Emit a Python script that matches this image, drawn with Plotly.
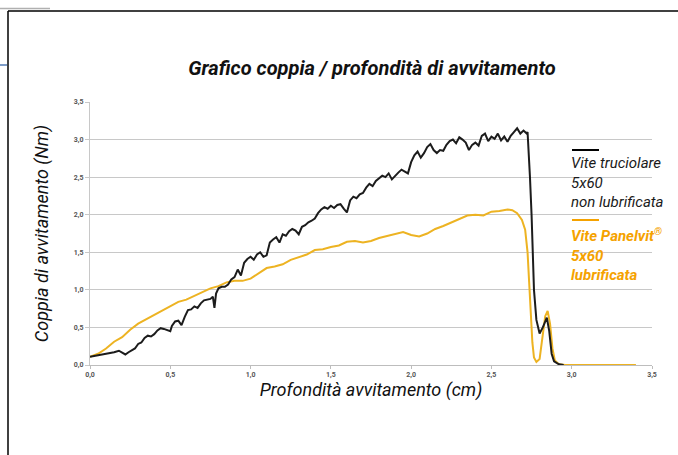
import plotly.graph_objects as go

# Vite truciolare 5x60 non lubrificata
depth_std = [0.00, 0.03, 0.06, 0.09, 0.12, 0.15, 0.18, 0.20, 0.22, 0.24, 0.26, 0.28, 0.30, 0.32,
             0.34, 0.36, 0.38, 0.40, 0.42, 0.44, 0.46, 0.48, 0.50, 0.51, 0.53, 0.55, 0.57, 0.59,
             0.61, 0.63, 0.65, 0.67, 0.69, 0.71, 0.73, 0.75, 0.765, 0.775, 0.785, 0.80, 0.82,
             0.84, 0.86, 0.88, 0.90, 0.92, 0.94, 0.96, 0.98, 1.00, 1.02, 1.04, 1.06, 1.08, 1.10,
             1.12, 1.14, 1.16, 1.18, 1.20, 1.22, 1.24, 1.26, 1.28, 1.30, 1.32, 1.34, 1.36, 1.38,
             1.40, 1.42, 1.44, 1.46, 1.48, 1.50, 1.52, 1.54, 1.56, 1.58, 1.60, 1.62, 1.64, 1.66,
             1.68, 1.70, 1.72, 1.74, 1.76, 1.78, 1.80, 1.82, 1.84, 1.86, 1.88, 1.90, 1.92, 1.94,
             1.96, 1.98, 2.00, 2.02, 2.04, 2.06, 2.08, 2.10, 2.12, 2.14, 2.16, 2.18, 2.20, 2.22,
             2.24, 2.26, 2.28, 2.30, 2.32, 2.34, 2.36, 2.38, 2.40, 2.42, 2.44, 2.46, 2.48, 2.50,
             2.52, 2.54, 2.56, 2.58, 2.60, 2.62, 2.64, 2.66, 2.68, 2.70, 2.72, 2.725, 2.74, 2.75,
             2.765, 2.78, 2.80, 2.82, 2.845, 2.86, 2.875, 2.89, 2.92, 2.95]
torque_std = [0.11, 0.12, 0.13, 0.15, 0.16, 0.17, 0.19, 0.16, 0.14, 0.17, 0.20, 0.22, 0.28, 0.30,
              0.36, 0.39, 0.38, 0.41, 0.46, 0.49, 0.48, 0.47, 0.45, 0.52, 0.58, 0.59, 0.53, 0.64,
              0.73, 0.74, 0.78, 0.76, 0.82, 0.86, 0.87, 0.88, 0.91, 0.76, 0.95, 1.02, 1.04,
              1.04, 1.07, 1.14, 1.17, 1.27, 1.19, 1.36, 1.41, 1.44, 1.40, 1.47, 1.50, 1.44, 1.46,
              1.63, 1.67, 1.70, 1.63, 1.74, 1.72, 1.78, 1.81, 1.79, 1.74, 1.84, 1.86, 1.90, 1.92,
              1.95, 2.02, 2.07, 2.10, 2.08, 2.12, 2.09, 2.13, 2.14, 2.08, 2.03, 2.19, 2.24, 2.22,
              2.27, 2.29, 2.36, 2.41, 2.38, 2.45, 2.48, 2.52, 2.50, 2.55, 2.47, 2.52, 2.56, 2.60,
              2.57, 2.55, 2.70, 2.79, 2.84, 2.76, 2.82, 2.90, 2.94, 2.86, 2.82, 2.86, 2.85, 2.93,
              2.98, 3.00, 2.95, 3.03, 3.00, 2.96, 2.86, 2.93, 2.96, 2.92, 3.05, 3.08, 2.98, 3.04,
              3.01, 3.08, 2.99, 3.04, 2.97, 3.05, 3.10, 3.15, 3.08, 3.12, 3.08, 3.10, 2.50, 2.00,
              1.00, 0.60, 0.42, 0.50, 0.63, 0.45, 0.15, 0.05, 0.01, 0.00]

# Vite Panelvit 5x60 lubrificata
depth_pv = [0.00, 0.05, 0.10, 0.15, 0.20, 0.25, 0.30, 0.35, 0.40, 0.45, 0.50, 0.55, 0.60, 0.65,
            0.70, 0.75, 0.80, 0.85, 0.90, 0.95, 1.00, 1.05, 1.10, 1.15, 1.20, 1.25, 1.30, 1.35,
            1.40, 1.45, 1.50, 1.55, 1.60, 1.65, 1.70, 1.75, 1.80, 1.85, 1.90, 1.95, 2.00, 2.05,
            2.10, 2.15, 2.20, 2.25, 2.30, 2.35, 2.40, 2.45, 2.50, 2.55, 2.60, 2.63, 2.66, 2.69,
            2.71, 2.725, 2.735, 2.745, 2.755, 2.765, 2.78, 2.80, 2.82, 2.835, 2.85, 2.865, 2.88,
            2.895, 2.92, 2.96, 3.40]
torque_pv = [0.11, 0.15, 0.22, 0.31, 0.37, 0.47, 0.55, 0.61, 0.66, 0.73, 0.79, 0.84, 0.87, 0.92,
             0.97, 1.02, 1.05, 1.10, 1.12, 1.12, 1.15, 1.22, 1.29, 1.31, 1.34, 1.40, 1.44, 1.47,
             1.53, 1.54, 1.57, 1.59, 1.64, 1.65, 1.63, 1.65, 1.69, 1.72, 1.74, 1.77, 1.73, 1.71,
             1.75, 1.81, 1.85, 1.90, 1.94, 1.99, 2.00, 1.99, 2.04, 2.05, 2.07, 2.06, 2.02, 1.93,
             1.80, 1.50, 1.10, 0.60, 0.30, 0.10, 0.04, 0.08, 0.40, 0.65, 0.72, 0.55, 0.22,
             0.06, 0.01, 0.00, 0.00]

tick_vals = [0, 0.5, 1.0, 1.5, 2.0, 2.5, 3.0, 3.5]
tick_text = ['0,0', '0,5', '1,0', '1,5', '2,0', '2,5', '3,0', '3,5']

legend_std = ['Vite truciolare', '5x60', 'non lubrificata']
legend_pv = ['Vite Panelvit<sup>®</sup>', '5x60', 'lubrificata']

FONT = 'Roboto, Liberation Sans, sans-serif'
NARROW = 'Liberation Sans Narrow, Roboto, sans-serif'
YELLOW = '#EDB322'
ORANGE = '#F5A200'

# plot area in pixels: x 90..652, y 102..365
L, R, T, B = 90, 26, 102, 90
PW, PH = 678 - L - R, 455 - T - B


def px(x):
    return (x - L) / PW


def py(y):
    return (455 - B - y) / PH


fig = go.Figure()
fig.add_trace(go.Scatter(x=depth_pv, y=torque_pv, mode='lines',
                         line=dict(color=YELLOW, width=2), showlegend=False))
fig.add_trace(go.Scatter(x=depth_std, y=torque_std, mode='lines',
                         line=dict(color='#1c1c1c', width=2), showlegend=False))

shapes = [
    # white box behind legend hides the grid
    dict(type='rect', xref='paper', yref='paper', x0=px(564), x1=px(660), y0=py(262), y1=py(136),
         fillcolor='white', line=dict(width=0), layer='below'),
    # page frame
    dict(type='line', xref='paper', yref='paper', x0=px(8), x1=px(680), y0=py(11), y1=py(11),
         line=dict(color='black', width=1.5)),
    dict(type='line', xref='paper', yref='paper', x0=px(8), x1=px(8), y0=py(11), y1=py(460),
         line=dict(color='black', width=1.5)),
    dict(type='line', xref='paper', yref='paper', x0=px(0), x1=px(50), y0=py(8.5), y1=py(8.5),
         line=dict(color='#b0b0b0', width=1.5)),
    dict(type='line', xref='paper', yref='paper', x0=px(0), x1=px(7), y0=py(65), y1=py(65),
         line=dict(color='#7d9cc8', width=2)),
    # legend keys
    dict(type='line', xref='paper', yref='paper', x0=px(572), x1=px(599), y0=py(150), y1=py(150),
         line=dict(color='black', width=2)),
    dict(type='line', xref='paper', yref='paper', x0=px(572), x1=px(599), y0=py(220), y1=py(220),
         line=dict(color=ORANGE, width=2)),
]

annotations = [
    dict(text='<br>'.join(legend_std), xref='paper', yref='paper', x=px(569), y=py(152),
         xanchor='left', yanchor='top', align='left', showarrow=False,
         font=dict(family=FONT, size=15, color='#1a1a1a', style='italic')),
    dict(text='<b>' + '<br>'.join(legend_pv) + '</b>', xref='paper', yref='paper', x=px(569),
         y=py(223), xanchor='left', yanchor='top', align='left', showarrow=False,
         font=dict(family=FONT, size=15, color=ORANGE, style='italic')),
]

fig.update_layout(
    width=678, height=455,
    margin=dict(l=L, r=R, t=T, b=B),
    paper_bgcolor='white', plot_bgcolor='rgba(0,0,0,0)',
    title=dict(text='<b>Grafico coppia / profondità di avvitamento</b>', x=372 / 678,
               xanchor='center', y=1 - 68 / 455, yanchor='middle',
               font=dict(family=FONT, size=20, color='#111111', style='italic')),
    xaxis=dict(range=[0, 3.5], tickvals=tick_vals, ticktext=tick_text, showgrid=False,
               showline=True, linecolor='#bdbdbd', linewidth=1, ticks='outside', ticklen=3,
               tickcolor='#bdbdbd', zeroline=False,
               tickfont=dict(family=NARROW, size=7, color='#555555', weight='bold'),
               title=dict(text='Profondità avvitamento (cm)', standoff=3,
                          font=dict(family=FONT, size=18, color='#111111', style='italic'))),
    yaxis=dict(range=[0, 3.5], tickvals=tick_vals, ticktext=tick_text, showgrid=True,
               gridcolor='#c8c8c8', gridwidth=1, showline=True, linecolor='#c8c8c8', linewidth=1,
               ticks='outside', ticklen=4, tickcolor='#c8c8c8', zeroline=False,
               tickfont=dict(family=NARROW, size=7, color='#555555', weight='bold'),
               title=dict(text='Coppia di avvitamento (Nm)', standoff=20,
                          font=dict(family=FONT, size=18, color='#111111', style='italic'))),
    shapes=shapes,
    annotations=annotations,
)

fig.write_html("out.html", config={'displayModeBar': False},
               post_script="document.body.style.margin='0';")
